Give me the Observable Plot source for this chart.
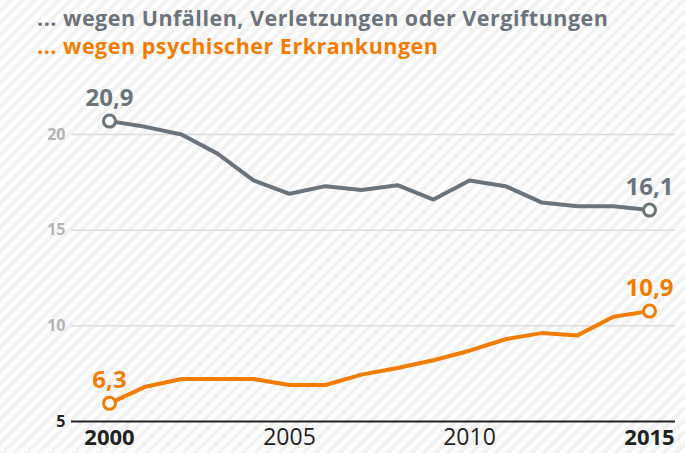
<!DOCTYPE html>
<html>
<head>
<meta charset="utf-8">
<script src="https://cdn.jsdelivr.net/npm/d3@7"></script>
<script src="https://cdn.jsdelivr.net/npm/@observablehq/plot@0.6"></script>
<style>
  html, body { margin: 0; padding: 0; }
  body {
    width: 685px; height: 453px; overflow: hidden;
    font-family: "Open Sans", sans-serif;
    background: repeating-linear-gradient(-45deg, #ffffff 0px, #ffffff 4.5px, #f2f2f2 4.5px, #f2f2f2 8.5px);
  }
  #titles { height: 60px; position: relative; }
  .t { position: absolute; left: 37px; font-weight: 700; font-size: 21.5px; line-height: 22px; white-space: nowrap; letter-spacing: 0.5px; }
  #t1 { top: 7px; color: #6b737b; }
  #t2 { top: 35px; color: #f07d00; }
  svg { display: block; background: transparent !important; }
</style>
</head>
<body>
<div id="titles">
  <div class="t" id="t1">... wegen Unfällen, Verletzungen oder Vergiftungen</div>
  <div class="t" id="t2">... wegen psychischer Erkrankungen</div>
</div>
<div id="chart"></div>
<script>
const years = [2000,2001,2002,2003,2004,2005,2006,2007,2008,2009,2010,2011,2012,2013,2014,2015];
const unfaelle = [20.7,20.4,20.0,19.0,17.6,16.9,17.3,17.1,17.35,16.6,17.6,17.3,16.45,16.25,16.25,16.05];
const psychisch = [5.95,6.82,7.22,7.22,7.22,6.91,6.91,7.45,7.8,8.2,8.7,9.3,9.62,9.5,10.47,10.77];
const endLabels = [
  {series: "u", year: 2000, text: "20,9"},
  {series: "u", year: 2015, text: "16,1"},
  {series: "p", year: 2000, text: "6,3"},
  {series: "p", year: 2015, text: "10,9"}
];
const yTicks = [5, 10, 15, 20];
const xTicksBold = [2000, 2015];
const xTicksRegular = [2005, 2010];

const grey = "#6b737b";
const orange = "#f07d00";

const dataU = years.map((y, i) => ({year: y, value: unfaelle[i]}));
const dataP = years.map((y, i) => ({year: y, value: psychisch[i]}));
const seriesData = {u: dataU, p: dataP};
const labelData = endLabels.map(l => ({...l, value: seriesData[l.series].find(d => d.year === l.year).value}));

const chart = Plot.plot({
  width: 685,
  height: 393,
  marginLeft: 71,
  marginRight: 10,
  marginTop: 74,
  marginBottom: 32,
  style: {background: "transparent", fontFamily: "Open Sans, sans-serif"},
  x: {domain: [2000, 2015], insetLeft: 38, insetRight: 26, axis: null},
  y: {domain: [5, 20], axis: null},
  marks: [
    Plot.ruleY([10, 15, 20], {stroke: "#dcdcdc", strokeWidth: 1.5}),
    Plot.ruleY([5], {stroke: "#222", strokeWidth: 2}),
    Plot.text(yTicks, {
      y: d => d, frameAnchor: "left", dx: -6, textAnchor: "end",
      text: d => String(d), fontSize: 16, fontWeight: 700,
      fill: d => d === 5 ? "#222" : "#b4b4b4"
    }),
    Plot.text(xTicksBold, {
      x: d => d, frameAnchor: "bottom", dy: 16, lineAnchor: "middle",
      text: d => String(d), fontSize: 22, fontWeight: 700, fill: "#222"
    }),
    Plot.text(xTicksRegular, {
      x: d => d, frameAnchor: "bottom", dy: 16, lineAnchor: "middle",
      text: d => String(d), fontSize: 23, fontWeight: 400, fill: "#222"
    }),
    Plot.line(dataU, {x: "year", y: "value", stroke: grey, strokeWidth: 4, strokeLinejoin: "round"}),
    Plot.line(dataP, {x: "year", y: "value", stroke: orange, strokeWidth: 4, strokeLinejoin: "round"}),
    Plot.dot(labelData, {
      x: "year", y: "value", r: 6, fill: "white", strokeWidth: 3,
      stroke: d => d.series === "u" ? grey : orange
    }),
    Plot.text(labelData, {
      x: "year", y: "value", text: "text", dy: -23, lineAnchor: "middle",
      fontSize: 24, fontWeight: 700,
      fill: d => d.series === "u" ? grey : orange
    })
  ]
});
document.getElementById("chart").appendChild(chart);
</script>
</body>
</html>
